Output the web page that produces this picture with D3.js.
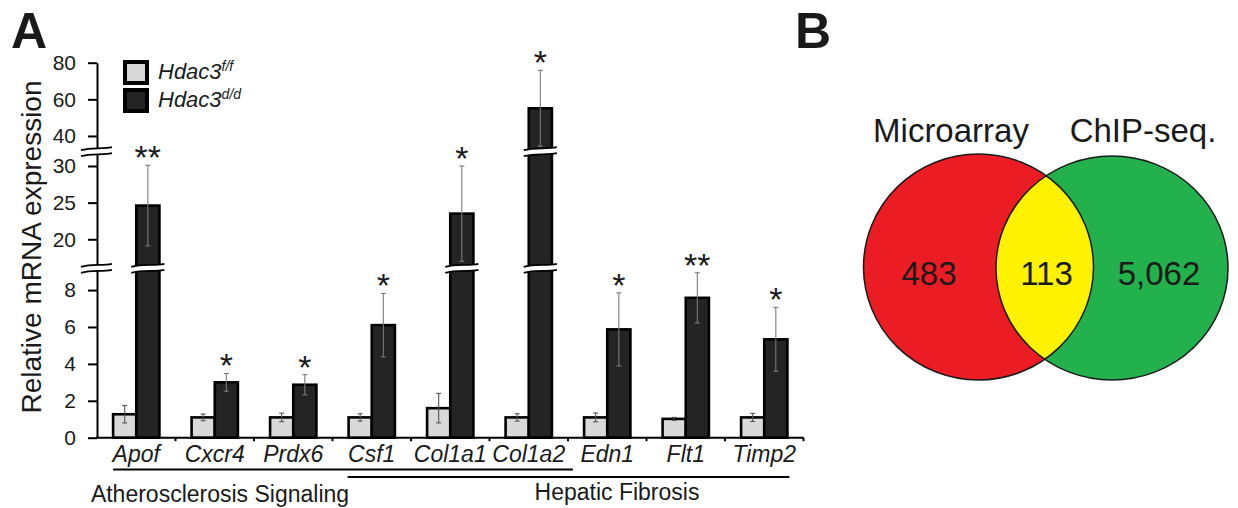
<!DOCTYPE html>
<html>
<head>
<meta charset="utf-8">
<script src="https://cdn.jsdelivr.net/npm/d3@7"></script>
<style>
  body { margin: 0; background: #fff; }
  text { font-family: Arial, "Liberation Sans", sans-serif; fill: #1a1a1a; }
</style>
</head>
<body>
<div class="fig"></div>
<script>
// ---- data ----
const genes = ["Apof", "Cxcr4", "Prdx6", "Csf1", "Col1a1", "Col1a2", "Edn1", "Flt1", "Timp2"]
const ffMean = [1.27, 1.1, 1.1, 1.1, 1.6, 1.1, 1.1, 1.02, 1.1]
const ffErr = [0.47, 0.18, 0.23, 0.2, 0.8, 0.2, 0.24, 0.08, 0.22]
const ddMean = [24.6, 3.0, 2.87, 6.1, 23.5, 55.1, 5.87, 7.58, 5.33]
const ddErr = [5.5, 0.48, 0.55, 1.72, 6.5, 20.7, 1.98, 1.36, 1.73]
const stars = ["**", "*", "*", "*", "*", "*", "*", "**", "*"]
const ticksLow = [0, 2, 4, 6, 8]
const ticksMid = [20, 25, 30]
const ticksHigh = [40, 60, 80]
const groups = [
    { name: "Atherosclerosis Signaling", from: "Apof", to: "Col1a2" },
    { name: "Hepatic Fibrosis", from: "Csf1", to: "Timp2" }
]
const vennSets = ["Microarray", "ChIP-seq."]
const vennCounts = ["483", "113", "5,062"]

const width = 1238
const height = 508

const svg = d3.select(".fig")
    .append("svg")
    .attr("width", width)
    .attr("height", height)

// ---- scales: broken y axis made of three pieces ----
const y0 = 437.7
const brk1 = 268.3
const brk2 = 151.7
const sLow = d3.scaleLinear().domain([0, 9.18]).range([y0, brk1])
const sMid = d3.scaleLinear().domain([16.04, 31.95]).range([brk1, brk2])
const sHigh = d3.scaleLinear().domain([31.4, 80]).range([brk2, 62.7])
const y = v => v <= 9.18 ? sLow(v) : (v <= 31.95 ? sMid(v) : sHigh(v))

const xLeft = 97
const x = d3.scaleBand().domain(genes).range([xLeft, 803.5]).paddingInner(0.41).paddingOuter(0.205)
const xs = d3.scaleBand().domain(["ff", "dd"]).range([0, x.bandwidth()])

const light = "#d9d9d9"
const dark = "#242424"

const rows = genes.map((g, i) => ({
    gene: g,
    vals: [
        { key: "ff", mean: ffMean[i], err: ffErr[i] },
        { key: "dd", mean: ddMean[i], err: ddErr[i] }
    ],
    star: stars[i]
}))

// ---- bars ----
const bars = svg.append("g")
    .selectAll("g")
    .data(rows)
    .join("g")
    .attr("transform", d => `translate(${x(d.gene)},0)`)

bars.selectAll("rect")
    .data(d => d.vals)
    .join("rect")
    .attr("x", d => xs(d.key))
    .attr("y", d => y(d.mean))
    .attr("width", xs.bandwidth())
    .attr("height", d => y0 - y(d.mean))
    .attr("fill", d => d.key == "ff" ? light : dark)
    .attr("stroke", "#000")
    .attr("stroke-width", 2.6)

// error bars
const eb = bars.selectAll("g.err")
    .data(d => d.vals)
    .join("g")
    .attr("class", "err")
    .attr("stroke", d => d.key == "ff" ? "#555" : "#7a7a7a")
    .attr("stroke-width", 1.1)

eb.append("line")
    .attr("x1", d => xs(d.key) + xs.bandwidth() / 2)
    .attr("x2", d => xs(d.key) + xs.bandwidth() / 2)
    .attr("y1", d => y(d.mean - d.err))
    .attr("y2", d => y(d.mean + d.err))
eb.selectAll("line.cap")
    .data(d => [d.mean - d.err, d.mean + d.err].map(v => ({ v: v, key: d.key })))
    .join("line")
    .attr("class", "cap")
    .attr("x1", d => xs(d.key) + xs.bandwidth() / 2 - 2.5)
    .attr("x2", d => xs(d.key) + xs.bandwidth() / 2 + 2.5)
    .attr("y1", d => y(d.v))
    .attr("y2", d => y(d.v))

// significance stars
bars.append("text")
    .attr("x", xs("dd") + xs.bandwidth() / 2)
    .attr("y", d => y(d.vals[1].mean + d.vals[1].err) + 4)
    .attr("text-anchor", "middle")
    .style("font-size", "34px")
    .text(d => d.star)

// ---- axes ----
function styleAxis(g) {
    g.select(".domain").attr("stroke", "#000").attr("stroke-width", 2)
    g.selectAll(".tick line").attr("stroke", "#000").attr("stroke-width", 2)
    g.selectAll(".tick text").style("font-size", "21px").attr("fill", "#1a1a1a")
        .style("font-family", "Arial, 'Liberation Sans', sans-serif")
}
const yAxisG = svg.append("g").attr("transform", `translate(${xLeft},0)`)
;[[sLow, ticksLow], [sMid, ticksMid], [sHigh, ticksHigh]].forEach(([s, t]) => {
    yAxisG.append("g")
        .call(d3.axisLeft(s).tickValues(t).tickSize(9).tickSizeOuter(0).tickPadding(12))
        .call(styleAxis)
})

// x baseline with small separators
svg.append("line")
    .attr("x1", xLeft - 1).attr("x2", x.range()[1])
    .attr("y1", y0).attr("y2", y0)
    .attr("stroke", "#000").attr("stroke-width", 2)
svg.append("g")
    .selectAll("line")
    .data(d3.range(1, genes.length + 1))
    .join("line")
    .attr("x1", k => xLeft + k * x.step())
    .attr("x2", k => xLeft + k * x.step())
    .attr("y1", y0).attr("y2", y0 + 3.5)
    .attr("stroke", "#000").attr("stroke-width", 2)

// ---- break marks ----
function breakMark(g, x1, x2, yb) {
    const w = x2 - x1
    const wave = (dy) => `M${x1},${yb + dy + 1.5} C${x1 + w / 3},${yb + dy - 1.5} ${x1 + 2 * w / 3},${yb + dy + 0.5} ${x2},${yb + dy - 1.5}`
    g.append("path")
        .attr("d", `M${x1},${yb - 1.5} C${x1 + w / 3},${yb - 4.5} ${x1 + 2 * w / 3},${yb - 2.5} ${x2},${yb - 4.5} L${x2},${yb + 1.5} C${x1 + 2 * w / 3},${yb + 3.5} ${x1 + w / 3},${yb + 1.5} ${x1},${yb + 4.5} Z`)
        .attr("fill", "#fff")
    g.append("path").attr("d", wave(-3)).attr("fill", "none").attr("stroke", "#000").attr("stroke-width", 1.8)
    g.append("path").attr("d", wave(3)).attr("fill", "none").attr("stroke", "#000").attr("stroke-width", 1.8)
}
const brkG = svg.append("g")
breakMark(brkG, xLeft - 16, xLeft + 15, brk1)
breakMark(brkG, xLeft - 16, xLeft + 15, brk2)
rows.forEach(r => {
    const v = r.vals[1].mean
    const bx = x(r.gene) + xs("dd")
    if (v > 9.18) breakMark(brkG, bx - 5, bx + xs.bandwidth() + 5, brk1)
    if (v > 31.95) breakMark(brkG, bx - 5, bx + xs.bandwidth() + 5, brk2)
})

// y label
svg.append("text")
    .attr("transform", `translate(41,247) rotate(-90)`)
    .attr("text-anchor", "middle")
    .style("font-size", "28px")
    .text("Relative mRNA expression")

// gene labels
svg.append("g")
    .selectAll("text")
    .data(genes)
    .join("text")
    .attr("x", d => x(d) + x.bandwidth() / 2)
    .attr("y", 462)
    .attr("text-anchor", "middle")
    .style("font-size", "23px")
    .style("font-style", "italic")
    .text(d => d)

// pathway brackets
const bracketY = [469.5, 477]
const bracketExt = [[0, 21], [-1, 2]]
const labelY = [501.5, 500]
groups.forEach((gr, i) => {
    const a = x(gr.from) + bracketExt[i][0]
    const b = x(gr.to) + x.bandwidth() + bracketExt[i][1]
    svg.append("line")
        .attr("x1", a).attr("x2", b)
        .attr("y1", bracketY[i]).attr("y2", bracketY[i])
        .attr("stroke", "#000").attr("stroke-width", 2)
})
svg.append("text").attr("x", 220).attr("y", labelY[0]).attr("text-anchor", "middle")
    .style("font-size", "23px").text(groups[0].name)
svg.append("text").attr("x", 617).attr("y", labelY[1]).attr("text-anchor", "middle")
    .style("font-size", "23px").text(groups[1].name)

// legend
const legendKeys = [{ fill: light, sup: "f/f" }, { fill: dark, sup: "d/d" }]
const leg = svg.append("g")
    .selectAll("g")
    .data(legendKeys)
    .join("g")
    .attr("transform", (d, i) => `translate(125,${62 + i * 28})`)
leg.append("rect")
    .attr("width", 22).attr("height", 21)
    .attr("fill", d => d.fill)
    .attr("stroke", "#000").attr("stroke-width", 4)
const lt = leg.append("text")
    .attr("x", 33).attr("y", 17)
    .style("font-size", "22px")
    .style("font-style", "italic")
lt.append("tspan").text("Hdac3")
lt.append("tspan").attr("dy", -8).style("font-size", "14px").text(d => d.sup)

// panel letters
svg.append("text").attr("x", 11).attr("y", 48).style("font-size", "50px").style("font-weight", "bold").text("A")
svg.append("text").attr("x", 795).attr("y", 48).style("font-size", "50px").style("font-weight", "bold").text("B")

// ---- Venn diagram ----
const venn = svg.append("g")
const cA = { cx: 978.5, cy: 267, rx: 115, ry: 113 }
const cB = { cx: 1112, cy: 268, rx: 116, ry: 112 }
const defs = svg.append("defs")
defs.append("clipPath").attr("id", "clipA")
    .append("ellipse").attr("cx", cA.cx).attr("cy", cA.cy).attr("rx", cA.rx).attr("ry", cA.ry)

venn.append("ellipse").attr("cx", cA.cx).attr("cy", cA.cy).attr("rx", cA.rx).attr("ry", cA.ry)
    .attr("fill", "#ec1c24")
venn.append("ellipse").attr("cx", cB.cx).attr("cy", cB.cy).attr("rx", cB.rx).attr("ry", cB.ry)
    .attr("fill", "#22b14c")
venn.append("ellipse").attr("cx", cB.cx).attr("cy", cB.cy).attr("rx", cB.rx).attr("ry", cB.ry)
    .attr("clip-path", "url(#clipA)")
    .attr("fill", "#fff200")
;[cA, cB].forEach(c => {
    venn.append("ellipse").attr("cx", c.cx).attr("cy", c.cy).attr("rx", c.rx).attr("ry", c.ry)
        .attr("fill", "none").attr("stroke", "#1a1a1a").attr("stroke-width", 1.5)
})

const setX = [951, 1143]
vennSets.forEach((s, i) => {
    venn.append("text").attr("x", setX[i]).attr("y", 141.5).attr("text-anchor", "middle")
        .style("font-size", "33px").text(s)
})
const countX = [929, 1046.5, 1159]
vennCounts.forEach((c, i) => {
    venn.append("text").attr("x", countX[i]).attr("y", 285).attr("text-anchor", "middle")
        .style("font-size", "33px").text(c)
})
</script>
</body>
</html>
